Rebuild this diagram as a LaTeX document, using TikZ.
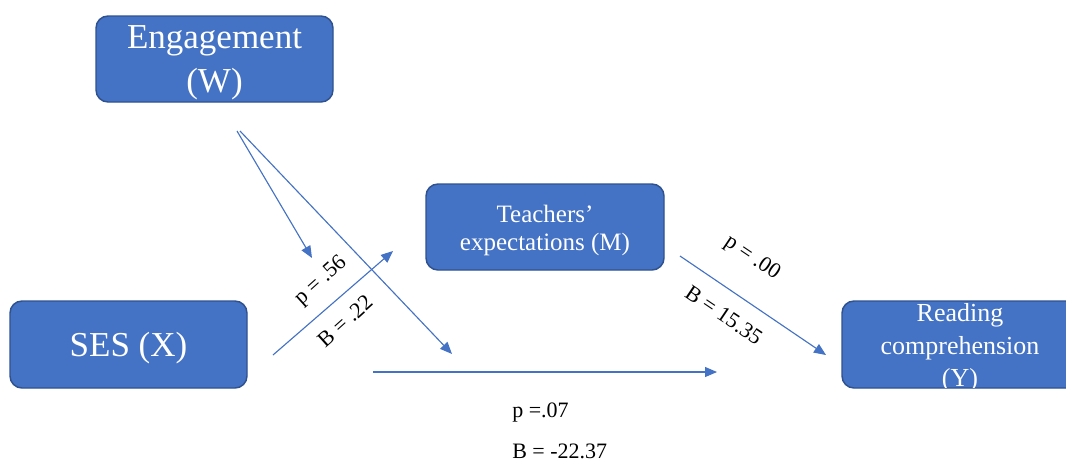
\documentclass[tikz,border=0pt]{standalone}
\usepackage{fontspec}
\setmainfont{Liberation Serif}
\usetikzlibrary{arrows.meta}
\definecolor{boxfill}{HTML}{4472C4}
\definecolor{boxedge}{HTML}{2F528F}
\definecolor{arrowblue}{HTML}{4472C4}
\begin{document}
\begin{tikzpicture}[x=0.75pt,y=-0.75pt,
  box/.style={draw=boxedge, fill=boxfill, line width=1.1pt, rounded corners=9pt, inner sep=0pt},
  bigtext/.style={text=white, font=\fontsize{26.25}{33}\selectfont, align=center, inner sep=0pt, yshift=-3pt},
  midtext/.style={text=white, font=\fontsize{18.75}{21}\selectfont, align=center, inner sep=0pt, yshift=-2.6pt},
  ytext/.style={text=white, font=\fontsize{19.5}{24.4}\selectfont, align=center, inner sep=0pt, yshift=-2.6pt},
  lab/.style={font=\fontsize{16.5}{20}\selectfont, inner sep=0pt},
  conn/.style={draw=arrowblue, line width=0.85pt, -{Triangle[length=9pt,width=7.5pt]}}
]
\clip (0,0) rectangle (1066,461);
\useasboundingbox (0,0) rectangle (1066,461);

% boxes
\node[box, minimum width=177.75pt, minimum height=64.5pt] (W) at (214.5,59) {};
\node[bigtext] (Wt) at (W) {Engagement\\(W)};

\node[box, minimum width=178.5pt, minimum height=64.5pt] (M) at (545,227) {};
\node[midtext] (Mt) at (M) {Teachers’\\expectations (M)};

\node[box, minimum width=177.75pt, minimum height=65.25pt] (X) at (128.5,344.5) {};
\node[bigtext] (Xt) at (X) {SES (X)};

\node[box, minimum width=177pt, minimum height=65.25pt] (Y) at (960,344.5) {};
\begin{scope}
  \clip (843,302) rectangle (1077,387);
  \node[ytext] (Yt) at (Y) {Reading\\comprehension\\(Y)};
\end{scope}

% connector end points
\coordinate (w1) at (237,131);
\coordinate (w1e) at (312,258);
\coordinate (w2) at (240,131);
\coordinate (w2e) at (452,354);
\coordinate (x1) at (273,355);
\coordinate (x1e) at (393,251);
\coordinate (m1) at (680,256);
\coordinate (m1e) at (826,355);
\coordinate (c1) at (373,372);
\coordinate (c1e) at (717,372);

\draw[conn] (w1) -- (w1e);
\draw[conn] (w2) -- (w2e);
\draw[conn] (x1) -- (x1e);
\draw[conn] (m1) -- (m1e);
\draw[conn] (c1) -- (c1e);

% labels
\node[lab, rotate=42] (l1) at (321,281) {p = .56};
\node[lab, rotate=42] (l2) at (345,321) {B = .22};
\node[lab, rotate=-34] (l3) at (752,258) {p = .00};
\node[lab, rotate=-34] (l4) at (724,315) {B = 15.35};
\node[lab, anchor=base west] (l5) at (512,417) {p =.07};
\node[lab, anchor=base west] (l6) at (512,458) {B = -22.37};
\end{tikzpicture}
\end{document}
